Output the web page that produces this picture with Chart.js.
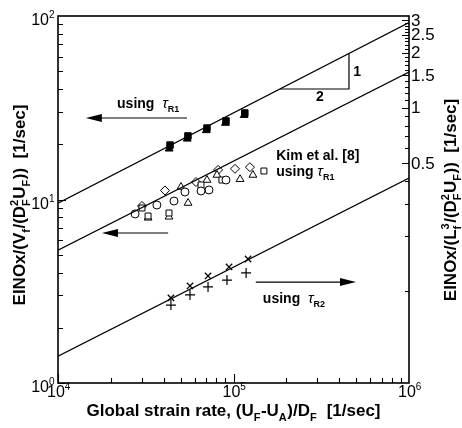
<!DOCTYPE html>
<html><head><meta charset="utf-8">
<script src="https://cdn.jsdelivr.net/npm/chart.js@4.4.1/dist/chart.umd.min.js"></script>
<style>html,body{margin:0;padding:0;background:#fff;}</style>
</head><body>
<canvas id="c" width="462" height="428"></canvas>
<script>
// ---- data ----
const xMajor = [1e4, 1e5, 1e6];
const xMajorExp = ['4', '5', '6'];
const yMajor = [1, 10, 100];
const yMajorExp = ['0', '1', '2'];
const y2LabelVals = [0.5, 1, 1.5, 2, 2.5, 3];
const y2Labels = ['0.5', '1', '1.5', '2', '2.5', '3'];

const lineX = [1e4, 1e6];
const topLineY = [9.55, 92];
const midLineY = [5.3, 49.5];
const lowLineY = [1.40, 13.1];

// using tau_R1 (filled)
const fSqX = [43500, 55000, 70600, 90600, 116000];
const fSqY = [19.8, 22.2, 24.5, 26.8, 29.6];
const fTriX = [43000, 54500, 70000, 90000, 115000];
const fTriY = [18.9, 21.4, 23.8, 26.1, 28.8];

// Kim et al. [8] (open)
const oCircX = [27500, 36600, 45800, 52900, 72500, 65300, 90600];
const oCircY = [8.34, 9.33, 9.81, 10.99, 11.27, 11.13, 12.77];
const oSqX = [30100, 42900, 65300, 85900, 149000, 32600];
const oSqY = [8.99, 8.44, 12.0, 12.77, 14.3, 8.13];
const oTriX = [32600, 50200, 55100, 70600, 80500, 109000, 129000, 42900];
const oTriY = [7.95, 11.7, 9.57, 12.77, 13.6, 12.9, 13.6, 8.05];
const oDiaX = [40700, 61100, 81700, 102000, 124000, 30100];
const oDiaY = [11.2, 12.45, 14.5, 14.7, 15.0, 9.22];

// using tau_R2
const xCrossX = [44000, 56500, 71600, 94300, 121000];
const xCrossY = [2.91, 3.38, 3.83, 4.29, 4.74];
const plusX = [44000, 56500, 71600, 91800, 118000];
const plusY = [2.66, 3.02, 3.34, 3.64, 3.98];

// slope triangle
const slopeTriX = [184000, 455000, 455000];
const slopeTriY = [40, 40, 62.5];

const pts = (xs, ys) => xs.map((x, i) => ({x, y: ys[i]}));

// ---- annotations (data coords) ----
const arrows = [
  {x1: 54300, x2: 14400, y: 27.8},
  {x1: 42400, x2: 17800, y: 6.57},
  {x1: 134000, x2: 499000, y: 3.55}
];
const FONT = '"Liberation Sans", Arial, Helvetica, sans-serif';

function partsWidth(ctx, parts, size, bold) {
  let w = 0;
  const big = (bold ? 'bold ' : '') + size + 'px ' + FONT;
  const sm = (bold ? 'bold ' : '') + Math.round(size * 0.65) + 'px ' + FONT;
  for (const p of parts) {
    if (typeof p === 'string') { ctx.font = big; w += ctx.measureText(p).width; }
    else if (p.g) { ctx.font = p.gf; w += ctx.measureText(p.g).width; }
    else {
      ctx.font = sm;
      const a = p.sup ? ctx.measureText(p.sup).width : 0;
      const b = p.sub ? ctx.measureText(p.sub).width : 0;
      w += Math.max(a, b) + 0.5;
    }
  }
  return w;
}
function drawParts(ctx, parts, x, y, size, bold) {
  const big = (bold ? 'bold ' : '') + size + 'px ' + FONT;
  const sm = (bold ? 'bold ' : '') + Math.round(size * 0.65) + 'px ' + FONT;
  ctx.textBaseline = 'alphabetic';
  ctx.textAlign = 'left';
  for (const p of parts) {
    if (typeof p === 'string') { ctx.font = big; ctx.fillText(p, x, y); x += ctx.measureText(p).width; }
    else if (p.g) { ctx.font = p.gf; ctx.fillText(p.g, x, y); x += ctx.measureText(p.g).width; }
    else {
      ctx.font = sm;
      let a = 0, b = 0;
      if (p.sup) { ctx.fillText(p.sup, x, y - size * 0.42); a = ctx.measureText(p.sup).width; }
      if (p.sub) { ctx.fillText(p.sub, x, y + size * 0.28); b = ctx.measureText(p.sub).width; }
      x += Math.max(a, b) + 0.5;
    }
  }
}

const decor = {
  id: 'decor',
  afterDraw(chart) {
    const ctx = chart.ctx;
    const a = chart.chartArea;
    const xs = chart.scales.x, ys = chart.scales.y, y2 = chart.scales.y2;
    ctx.save();
    ctx.strokeStyle = '#000';
    ctx.fillStyle = '#000';
    ctx.lineWidth = 1.6;
    ctx.strokeRect(a.left, a.top, a.right - a.left, a.bottom - a.top);
    ctx.lineWidth = 1.1;
    ctx.beginPath();
    for (let d = 1e4; d < 1e6; d *= 10) {
      for (let k = 1; k <= 9; k++) {
        const px = Math.round(xs.getPixelForValue(k * d)) + 0.5;
        const len = k === 1 ? 9 : 5;
        ctx.moveTo(px, a.bottom); ctx.lineTo(px, a.bottom - len);
      }
    }
    for (let d = 1; d < 100; d *= 10) {
      for (let k = 1; k <= 9; k++) {
        const py = Math.round(ys.getPixelForValue(k * d)) + 0.5;
        const len = k === 1 ? 8 : 5;
        ctx.moveTo(a.left, py); ctx.lineTo(a.left + len, py);
      }
    }
    for (let i = 1; i <= 30; i++) {
      const py = Math.round(y2.getPixelForValue(i / 10)) + 0.5;
      const len = (i % 5 === 0) ? 7 : 4;
      ctx.moveTo(a.right, py); ctx.lineTo(a.right - len, py);
    }
    ctx.stroke();

    const TS = 16;
    xMajor.forEach((v, i) => {
      const parts = ['10', {sup: xMajorExp[i]}];
      const w = partsWidth(ctx, parts, TS, false);
      drawParts(ctx, parts, xs.getPixelForValue(v) - w / 2 + 1, a.bottom + 14, TS, false);
    });
    yMajor.forEach((v, i) => {
      const parts = ['10', {sup: yMajorExp[i]}];
      const w = partsWidth(ctx, parts, TS, false);
      drawParts(ctx, parts, a.left - 3 - w, ys.getPixelForValue(v) + 9, TS, false);
    });
    ctx.font = '17px ' + FONT;
    ctx.textAlign = 'left';
    ctx.textBaseline = 'middle';
    y2LabelVals.forEach((v, i) => {
      ctx.fillText(y2Labels[i], a.right + 2, y2.getPixelForValue(v) + 1);
    });

    const TT = 17;
    const xt = ['Global strain rate, (U', {sub: 'F'}, '-U', {sub: 'A'}, ')/D', {sub: 'F'}, '  [1/sec]'];
    let w = partsWidth(ctx, xt, TT, true);
    drawParts(ctx, xt, (a.left + a.right) / 2 - w / 2, 416, TT, true);

    const yt = ['EINOx/(V', {sub: 'f'}, '/(D', {sup: '2', sub: 'F'}, 'U', {sub: 'F'}, '))  [1/sec]'];
    w = partsWidth(ctx, yt, TT, true);
    ctx.save(); ctx.translate(25, 205); ctx.rotate(-Math.PI / 2);
    drawParts(ctx, yt, -w / 2, 0, TT, true); ctx.restore();

    const y2t = ['EINOx/(L', {sup: '3', sub: 'f'}, '/(D', {sup: '2', sub: 'F'}, 'U', {sub: 'F'}, '))  [1/sec]'];
    w = partsWidth(ctx, y2t, TT, true);
    ctx.save(); ctx.translate(456, 200); ctx.rotate(-Math.PI / 2);
    drawParts(ctx, y2t, -w / 2, 0, TT, true); ctx.restore();

    ctx.lineWidth = 1.2;
    arrows.forEach(ar => {
      const x1 = xs.getPixelForValue(ar.x1), x2 = xs.getPixelForValue(ar.x2);
      const py = ys.getPixelForValue(ar.y);
      const dir = Math.sign(x2 - x1);
      ctx.beginPath(); ctx.moveTo(x1, py); ctx.lineTo(x2 - dir * 10, py); ctx.stroke();
      ctx.beginPath(); ctx.moveTo(x2, py); ctx.lineTo(x2 - dir * 16, py - 4); ctx.lineTo(x2 - dir * 16, py + 4); ctx.closePath(); ctx.fill();
    });

    const tauF = 'italic 15px ' + FONT;
    const label = (parts, xv, yv) => {
      drawParts(ctx, parts, xs.getPixelForValue(xv), ys.getPixelForValue(yv) + 5, 14, true);
    };
    label(['using  ', {g: 'τ', gf: tauF}, {sub: 'R1'}], 21700, 33.6);
    label(['Kim et al. [8]'], 175000, 17.5);
    label(['using ', {g: 'τ', gf: tauF}, {sub: 'R1'}], 175000, 14.3);
    label(['using  ', {g: 'τ', gf: tauF}, {sub: 'R2'}], 147000, 2.91);
    ctx.font = 'bold 14px ' + FONT;
    ctx.textAlign = 'center'; ctx.textBaseline = 'middle';
    ctx.fillText('1', xs.getPixelForValue(506000), ys.getPixelForValue(49.5));
    ctx.fillText('2', xs.getPixelForValue(311000), ys.getPixelForValue(36.2));
    ctx.restore();
  }
};

const lineDs = (ys) => ({type: 'line', data: pts(lineX, ys), borderColor: '#000', borderWidth: 1.2, pointRadius: 0, fill: false, tension: 0});
const open = {backgroundColor: '#fff', borderColor: '#000', borderWidth: 1};

new Chart(document.getElementById('c'), {
  type: 'scatter',
  data: {
    datasets: [
      lineDs(topLineY), lineDs(midLineY), lineDs(lowLineY),
      {type: 'line', data: pts(slopeTriX, slopeTriY), borderColor: '#000', borderWidth: 1.2, pointRadius: 0, fill: false},
      {data: pts(fTriX, fTriY), pointStyle: 'triangle', pointRadius: 4.5, backgroundColor: '#000', borderColor: '#000', borderWidth: 1},
      {data: pts(fSqX, fSqY), pointStyle: 'rect', pointRadius: 4.6, backgroundColor: '#000', borderColor: '#000', borderWidth: 1},
      {data: pts(oCircX, oCircY), pointStyle: 'circle', pointRadius: 4, ...open},
      {data: pts(oSqX, oSqY), pointStyle: 'rect', pointRadius: 4.2, ...open},
      {data: pts(oTriX, oTriY), pointStyle: 'triangle', pointRadius: 4.5, ...open},
      {data: pts(oDiaX, oDiaY), pointStyle: 'rectRot', pointRadius: 4.5, ...open},
      {data: pts(xCrossX, xCrossY), pointStyle: 'crossRot', pointRadius: 4.5, borderColor: '#000', borderWidth: 1.3},
      {data: pts(plusX, plusY), pointStyle: 'cross', pointRadius: 5, borderColor: '#000', borderWidth: 1.2}
    ]
  },
  options: {
    responsive: false, animation: false, devicePixelRatio: 1,
    layout: {padding: {left: 58, top: 16, right: 53, bottom: 45}},
    plugins: {legend: {display: false}, tooltip: {enabled: false}},
    scales: {
      x: {type: 'logarithmic', min: 1e4, max: 1e6, display: false},
      y: {type: 'logarithmic', min: 1, max: 100, display: false},
      y2: {type: 'logarithmic', position: 'right', min: Math.pow(10, -1.5), max: Math.pow(10, 0.5), display: false}
    }
  },
  plugins: [decor]
});
</script>
</body></html>
